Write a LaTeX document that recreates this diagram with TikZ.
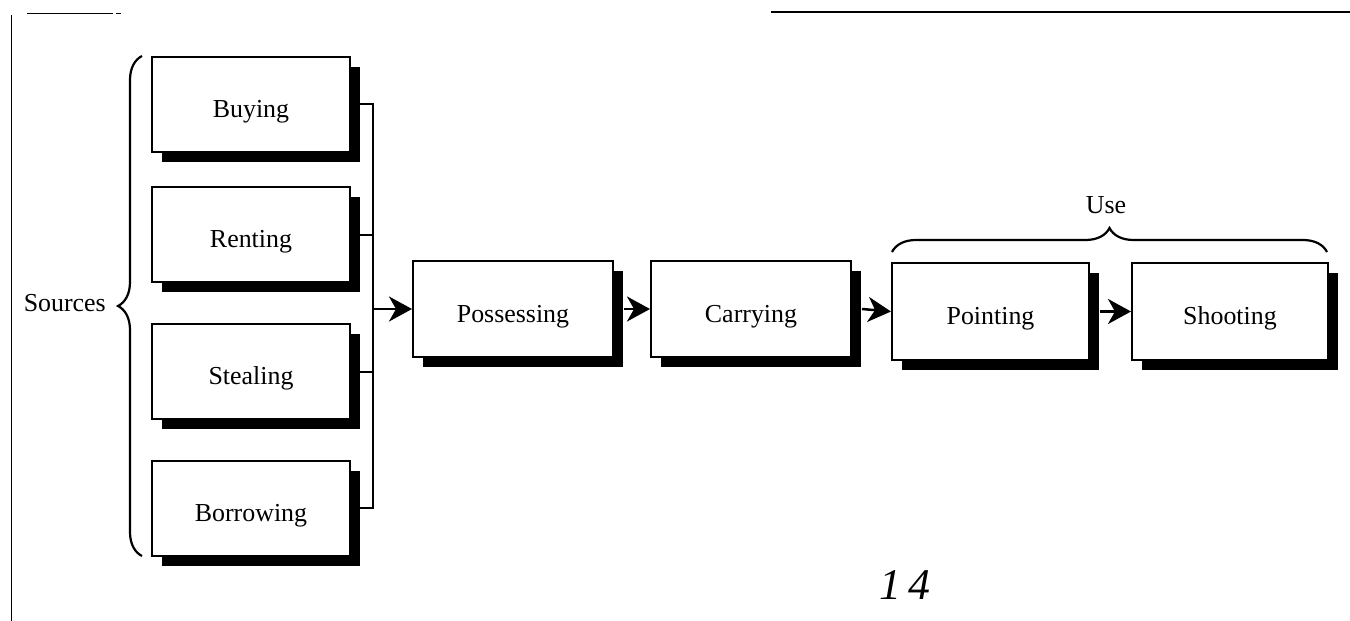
\documentclass[tikz,border=0pt]{standalone}
\usepackage{fontspec}
\setmainfont{Liberation Serif}
\usetikzlibrary{arrows.meta,shadows,decorations.pathreplacing}
\begin{document}
\begin{tikzpicture}[x=1bp,y=-1bp,
  stagebox/.style={draw=black,line width=2bp,fill=white,minimum width=198bp,minimum height=95bp,
    inner sep=0pt,font=\fontsize{26}{30}\selectfont,text height=26bp,text depth=0pt,
    drop shadow={shadow xshift=10bp,shadow yshift=-10bp,fill=black,opacity=1}},
  link/.style={line width=2bp},
  arr/.style={line width=2.5bp,-{Stealth[length=23bp,width=25bp,inset=7bp]}},
  curly/.style={line width=2.2bp,decorate,decoration={brace,amplitude=24bp}},
  label/.style={font=\fontsize{26}{30}\selectfont,inner sep=0pt}]
\useasboundingbox (0,0) rectangle (1350,621);
% page frame fragments
\draw[line width=1.5bp] (11.5,15) -- (11.5,621);
\draw[line width=1.5bp] (27,13.5) -- (113,13.5);
\draw[line width=1.5bp] (116,13.5) -- (121,13.5);
\draw[line width=2bp] (771,12) -- (1350,12);
% boxes
\node[stagebox] (buy) at (251,104.5) {Buying};
\node[stagebox] (rent) at (251,234.5) {Renting};
\node[stagebox] (steal) at (251,371.5) {Stealing};
\node[stagebox] (borrow) at (251,508) {Borrowing};
\node[stagebox,minimum width=200bp,minimum height=96bp] (poss) at (513,309) {Possessing};
\node[stagebox,minimum width=200bp,minimum height=96bp] (carry) at (751,309) {Carrying};
\node[stagebox,minimum width=197bp,minimum height=97bp] (point) at (990.5,311.5) {Pointing};
\node[stagebox,minimum width=196bp,minimum height=97bp] (shoot) at (1230,311.5) {Shooting};
% bus
\coordinate (bus) at (373,309);
\draw[link] (buy.east) -| (bus |- borrow.east) -- (borrow.east);
\draw[link] (rent.east) -- (rent.east -| bus);
\draw[link] (steal.east) -- (steal.east -| bus);
\draw[arr] (bus) -- (poss.west);
\draw[arr] ([xshift=10bp]poss.east) -- (carry.west);
\draw[arr] ([xshift=10bp]carry.east) -- (point.west);
\draw[arr] ([xshift=10bp]point.east) -- (shoot.west);
% braces
\coordinate (sb) at (142,556);
\coordinate (st) at (142,56);
\draw[curly] (sb) -- (st);
\node[label,anchor=east] (sources) at (106,303) {Sources};
\coordinate (ul) at (892,252);
\coordinate (ur) at (1327,252);
\draw[curly] (ul) -- (ur);
\node[label] (use) at (1106,205) {Use};
% page number
\node[inner sep=0pt,font=\fontsize{44}{50}\selectfont\itshape] (pg) at (905,585) {1\kern8bp 4};
\end{tikzpicture}
\end{document}
